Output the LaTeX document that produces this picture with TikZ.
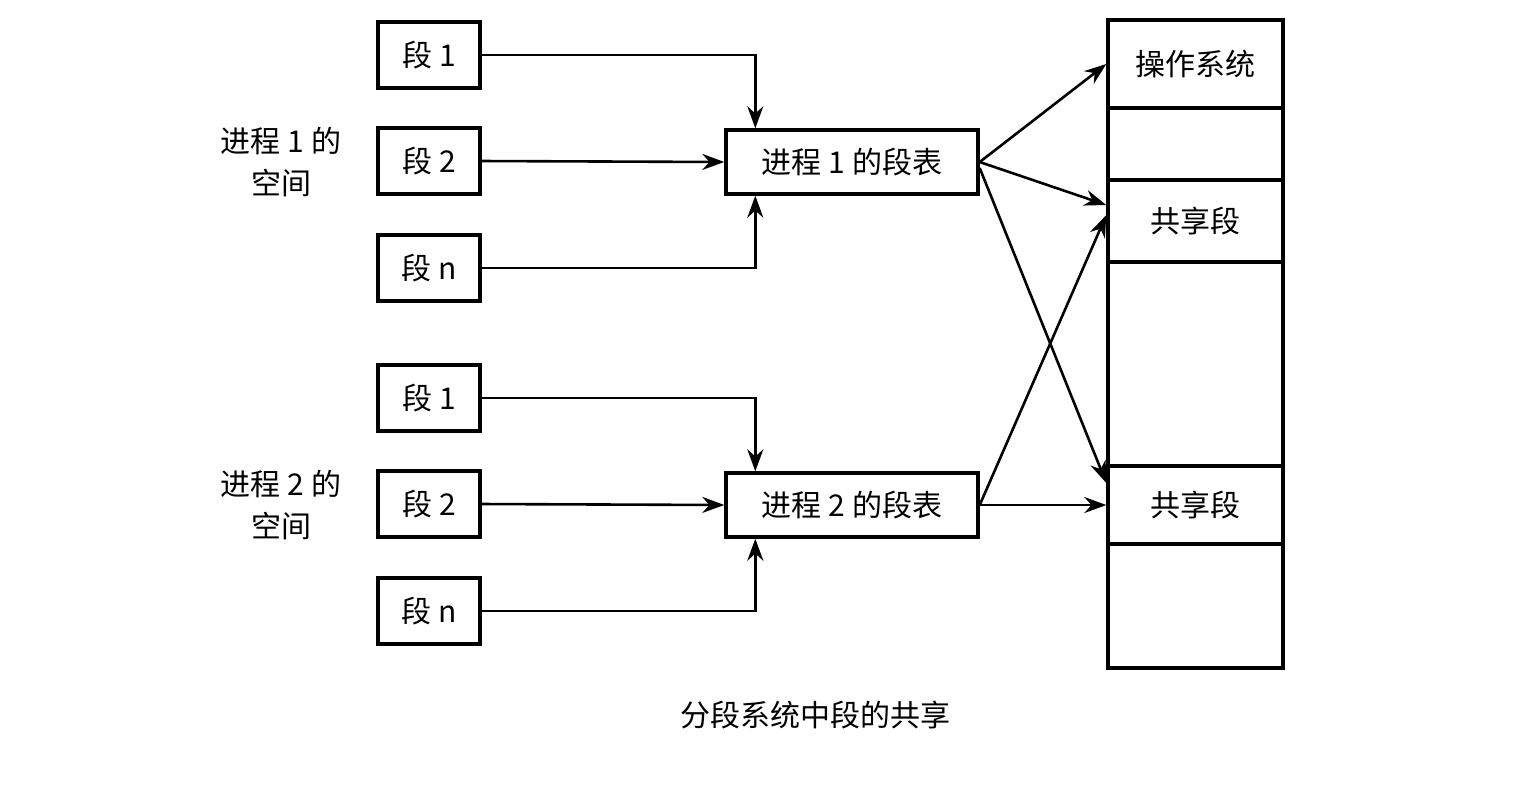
\documentclass[tikz,border=0pt]{standalone}
\usepackage{fontspec}
\setmainfont{Noto Sans CJK SC}
\usetikzlibrary{arrows.meta}
\begin{document}
\begin{tikzpicture}[>={Stealth[length=11pt,width=8pt]},x=0.5pt,y=-0.5pt,
    every node/.style={font=\fontsize{15}{21}\selectfont,inner sep=0pt},
    seg/.style={draw,line width=1.7pt,minimum width=51pt,minimum height=33pt},
    tab/.style={draw,line width=1.7pt,minimum width=126pt,minimum height=32pt},
    cell/.style={draw,line width=1.7pt,minimum width=87.5pt,minimum height=#1},
    link/.style={->,line width=1.3pt}]
    \useasboundingbox (0,0) rectangle (1540,784);
    \foreach \p/\y in {1/0,2/343}{
        \node[seg] (seg\p a) at (429,55+\y) {段 1};
        \node[seg] (seg\p b) at (429,161+\y) {段 2};
        \node[seg] (seg\p n) at (429,268+\y) {段 n};
        \node[tab] (tab\p) at (852,162+\y) {进程 \p\ 的段表};
        \node[align=center] (name\p) at (281,162+\y) {进程 \p\ 的\\空间};
        \draw[link] (seg\p a.east) -| ([xshift=15.5pt]tab\p.north west);
        \draw[link] (seg\p b.east) -- (tab\p.west);
        \draw[link] (seg\p n.east) -| ([xshift=15.5pt]tab\p.south west);
    }
    % main memory
    \node[cell=44pt] (os) at (1195.5,64) {操作系统};
    \node[cell=36pt] (free1) at (1195.5,144) {};
    \node[cell=41pt] (shareA) at (1195.5,221) {共享段};
    \node[cell=102pt] (free2) at (1195.5,364) {};
    \node[cell=39pt] (shareB) at (1195.5,505) {共享段};
    \node[cell=62pt] (free3) at (1195.5,606) {};
    \draw[link] (tab1.east) -- (os.west);
    \draw[link] (tab1.east) -- ([yshift=8pt]shareA.west);
    \draw[link] ([yshift=-3pt]tab1.east) -- ([yshift=11pt]shareB.west);
    \draw[link] (tab2.east) -- ([yshift=3pt]shareA.west);
    \draw[link] (tab2.east) -- (shareB.west);
    \node (caption) at (815,715) {分段系统中段的共享};
\end{tikzpicture}
\end{document}
